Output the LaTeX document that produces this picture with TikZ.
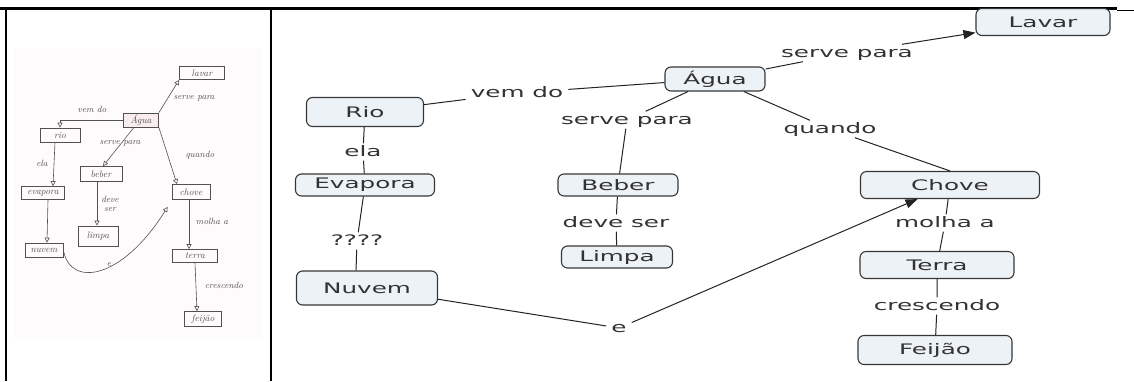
\documentclass[tikz,border=0pt]{standalone}
\usepackage{fontspec}
\usetikzlibrary{arrows.meta}
\newfontfamily\mapfont[FakeStretch=1.7]{DejaVu Sans}
\definecolor{conceptfill}{RGB}{236,242,246}
\definecolor{conceptborder}{RGB}{55,55,55}
\definecolor{textgray}{RGB}{50,50,50}
\definecolor{linkline}{RGB}{35,35,35}
\definecolor{paper}{RGB}{253,251,251}
\definecolor{pencil}{RGB}{85,80,80}
\definecolor{blush}{RGB}{249,236,238}
\tikzset{
  frame/.style={line width=2.2pt, black},
  concept/.style={draw=conceptborder, line width=1.1pt, fill=conceptfill,
    rounded corners=6pt, inner sep=0pt, text=textgray,
    font=\mapfont\fontsize{14.5}{16}\selectfont},
  linkword/.style={text=textgray, inner xsep=5pt, inner ysep=2pt,
    text height=10.5pt, text depth=2.5pt,
    font=\mapfont\fontsize{14.5}{16}\selectfont},
  conn/.style={draw=linkline, line width=1pt},
  tip/.style={-{Triangle[length=12pt,width=9pt]}},
  sbox/.style={draw=pencil, line width=0.7pt, inner sep=0pt, text=pencil,
    font=\itshape\fontsize{9.5}{10}\selectfont},
  sword/.style={text=pencil, inner sep=1pt, align=center,
    font=\itshape\fontsize{9}{9}\selectfont},
  sline/.style={draw=pencil, line width=0.6pt},
  stip/.style={-{Triangle[open,length=5pt,width=5pt]}}
}
\begin{document}
\begin{tikzpicture}[x=1pt,y=-1pt]
\useasboundingbox (0,0) rectangle (1134,381);

% ---------- table frame ----------
\draw[frame] (0,8.5) -- (1117,8.5);
\draw[line width=1pt] (1117,10) -- (1134,10);
\draw[frame] (6,8.5) -- (6,381);
\draw[frame] (271,8.5) -- (271,381);

% ---------- hand-drawn map (left cell) ----------
\fill[paper] (15,48) rectangle (262,340);
\node[sbox, minimum width=45, minimum height=13] (s_lavar)   at (202,73)  {lavar};
\node[sbox, minimum width=35, minimum height=14, fill=blush] (s_agua) at (141,120) {Água};
\node[sbox, minimum width=40, minimum height=14] (s_rio)     at (60,135)  {rio};
\node[sbox, minimum width=42, minimum height=15] (s_beber)   at (101,174) {beber};
\node[sbox, minimum width=43, minimum height=13] (s_evapora) at (43,193)  {evapora};
\node[sbox, minimum width=38, minimum height=15] (s_chove)   at (191,192) {chove};
\node[sbox, minimum width=40, minimum height=20] (s_limpa)   at (98,236)  {limpa};
\node[sbox, minimum width=38, minimum height=14] (s_nuvem)   at (44,250)  {nuvem};
\node[sbox, minimum width=45, minimum height=13] (s_terra)   at (195,256) {terra};
\node[sbox, minimum width=37, minimum height=15] (s_feijao)  at (203,319) {feijão};

\node[sword] (sw_serve1)  at (194,98)  {serve para};
\node[sword] (sw_vemdo)   at (92,109)  {vem do};
\node[sword] (sw_serve2)  at (120,143) {serve para};
\node[sword] (sw_quando)  at (200,155) {quando};
\node[sword] (sw_ela)     at (42,163)  {ela};
\node[sword] (sw_deve)    at (110,204) {deve\\ser};
\node[sword] (sw_molha)   at (212,221) {molha a};
\node[sword] (sw_e)       at (109,265) {e};
\node[sword] (sw_cresc)   at (224,285) {crescendo};

\draw[sline, stip] (s_agua.north east) -- (s_lavar.south west);
\draw[sline, stip] (s_agua.west) -| (s_rio.north);
\draw[sline, stip] ([xshift=-7pt]s_agua.south) -- ([xshift=2pt]s_beber.north);
\draw[sline, stip] (s_agua.south east) -- ([xshift=-14pt]s_chove.north);
\draw[sline, stip] ([xshift=-5pt]s_rio.south) -- ([xshift=10pt]s_evapora.north);
\draw[sline, stip] ([xshift=5pt]s_evapora.south) -- ([xshift=3pt]s_nuvem.north);
\draw[sline, stip] ([xshift=-4pt]s_beber.south) -- ([xshift=-1pt]s_limpa.north);
\draw[sline, stip] ([xshift=-2pt]s_chove.south) -- ([xshift=-6pt]s_terra.north);
\draw[sline, stip] (s_terra.south) -- ([xshift=-6pt]s_feijao.north);
\draw[sline, stip] (s_nuvem.east) .. controls (70,288) and (122,280)
  .. ([xshift=-4pt,yshift=-7pt]s_chove.south west);

% ---------- concept map (right cell) ----------
\node[concept, minimum width=134, minimum height=27] (lavar)   at (1043,22)  {Lavar};
\node[concept, minimum width=100, minimum height=24] (agua)    at (715,79)   {Água};
\node[concept, minimum width=117, minimum height=29] (rio)     at (365,112)  {Rio};
\node[concept, minimum width=139, minimum height=22] (evapora) at (365,185)  {Evapora};
\node[concept, minimum width=120, minimum height=22] (beber)   at (618,185)  {Beber};
\node[concept, minimum width=111, minimum height=22] (limpa)   at (617,257)  {Limpa};
\node[concept, minimum width=141, minimum height=34] (nuvem)   at (367,288)  {Nuvem};
\node[concept, minimum width=179, minimum height=27] (chove)   at (950,185)  {Chove};
\node[concept, minimum width=154, minimum height=27] (terra)   at (937,265)  {Terra};
\node[concept, minimum width=154, minimum height=29] (feijao)  at (935,350)  {Feijão};

\node[linkword] (vemdo)     at (517,93)  {vem do};
\node[linkword] (servebeb)  at (627,120) {serve para};
\node[linkword] (servelav)  at (847,53)  {serve para};
\node[linkword] (quando)    at (830,129) {quando};
\node[linkword] (ela)       at (363,152) {ela};
\node[linkword] (duvida)    at (357,241) {????};
\node[linkword] (deveser)   at (616,223) {deve ser};
\node[linkword] (molha)     at (945,223) {molha a};
\node[linkword] (crescendo) at (937,306) {crescendo};
\node[linkword] (elo)       at (619,328) {e};

\draw[conn] (agua) -- (vemdo) -- (rio);
\draw[conn] (agua) -- (servebeb) -- (beber);
\draw[conn] (agua) -- (servelav);
\draw[conn, tip] (servelav) -- (lavar);
\draw[conn] (agua) -- (quando) -- (chove.north);
\draw[conn] (rio) -- (ela) -- (evapora);
\draw[conn] (evapora) -- (duvida) -- ([xshift=-11pt]nuvem.north);
\draw[conn] (beber) -- (deveser) -- (limpa);
\draw[conn] (chove) -- (molha) -- (terra);
\draw[conn] (terra) -- (crescendo) -- (feijao);
\draw[conn] (nuvem) -- (elo);
\draw[conn, tip] (elo) -- (chove);
\end{tikzpicture}
\end{document}
